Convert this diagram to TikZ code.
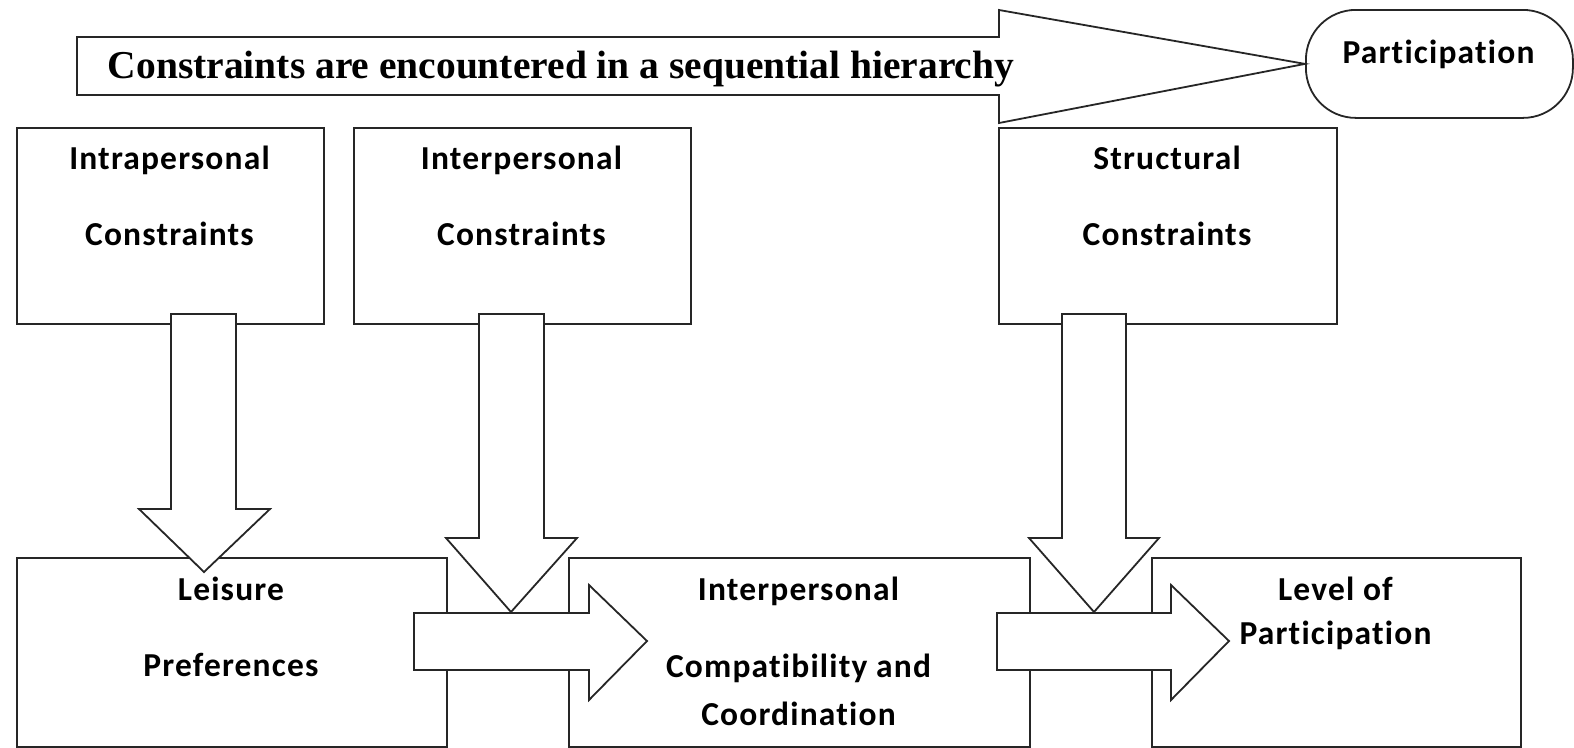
\documentclass[tikz,border=0pt]{standalone}
\usepackage{fontspec}
\setmainfont{Carlito}[LetterSpace=3.5,Ligatures=NoCommon]
\newfontfamily\titlefont{Liberation Serif}
\begin{document}
\begin{tikzpicture}[x=1pt,y=-1pt,line width=1.8pt,line join=miter,
  box/.style={draw=black!85,rectangle,inner sep=0pt,anchor=north west},
  terminal/.style={draw=black!85,rectangle,rounded corners=50pt,inner sep=0pt,anchor=north west},
  blockarrow/.style={draw=black!85,fill=white},
  lbl/.style={anchor=base,inner sep=0pt,font=\fontsize{33.5}{40}\selectfont\bfseries},
  headline/.style={anchor=base west,inner sep=0pt,font=\titlefont\fontsize{39.5}{46}\selectfont\bfseries}]
\useasboundingbox (0,0) rectangle (1574,747);

% constraint boxes (top row)
\node[box,minimum width=307pt,minimum height=196pt] (intra) at (16,127) {};
\node[box,minimum width=337pt,minimum height=196pt] (inter) at (353,127) {};
\node[box,minimum width=338pt,minimum height=196pt] (struct) at (998,127) {};

% outcome boxes (bottom row)
\node[box,minimum width=430pt,minimum height=189pt] (leis) at (16,557) {};
\node[box,minimum width=461pt,minimum height=189pt] (comp) at (568,557) {};
\node[box,minimum width=369pt,minimum height=189pt] (level) at (1151,557) {};

% goal terminal
\node[terminal,minimum width=267pt,minimum height=108pt] (part) at (1305,9) {};

% hierarchy arrow
\draw[blockarrow] (77,37) -- (999,37) -- (999,10) -- (part.west) -- (999,123) -- (999,95) -- (77,95) -- cycle;

% downward block arrows
\draw[blockarrow] (171,314) -- (236,314) -- (236,509) -- (270,509) -- (204,572) -- (139,509) -- (171,509) -- cycle;
\draw[blockarrow] (479,314) -- (544,314) -- (544,538) -- (577,538) -- (511,612) -- (446,538) -- (479,538) -- cycle;
\draw[blockarrow] (1062,314) -- (1126,314) -- (1126,538) -- (1159,538) -- (1094,612) -- (1029,538) -- (1062,538) -- cycle;

% rightward block arrows
\draw[blockarrow] (414,613) -- (589,613) -- (589,585) -- (647,641) -- (589,700) -- (589,670) -- (414,670) -- cycle;
\draw[blockarrow] (997,613) -- (1171,613) -- (1171,585) -- (1229,641) -- (1171,700) -- (1171,670) -- (997,670) -- cycle;

% texts
\node[headline] (head) at (107,78) {Constraints are encountered in a sequential hierarchy};
\node[lbl] (partt) at (1438.5,63) {Participation};

\node[lbl] (intra1) at (169.5,169) {Intrapersonal};
\node[lbl] (intra2) at (169.5,245) {Constraints};
\node[lbl] (inter1) at (521.5,169) {Interpersonal};
\node[lbl] (inter2) at (521.5,245) {Constraints};
\node[lbl] (struct1) at (1167,169) {Structural};
\node[lbl] (struct2) at (1167,245) {Constraints};

\node[lbl] (leis1) at (231,600) {Leisure};
\node[lbl] (leis2) at (231,676) {Preferences};
\node[lbl] (comp1) at (798.5,600) {Interpersonal};
\node[lbl] (comp2) at (798.5,677) {Compatibility and};
\node[lbl] (comp3) at (798.5,725) {Coordination};
\node[lbl] (level1) at (1335.5,600) {Level of};
\node[lbl] (level2) at (1335.5,644) {Participation};
\end{tikzpicture}
\end{document}
